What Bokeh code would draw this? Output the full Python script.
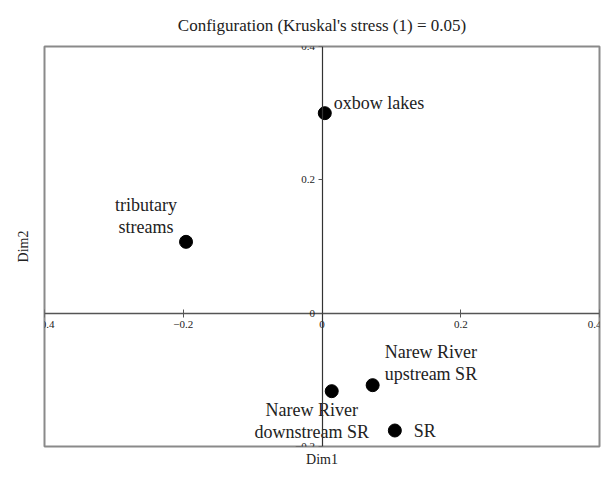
from bokeh.plotting import figure
from bokeh.models import ColumnDataSource, LinearAxis, FixedTicker, Title
from bokeh.core.properties import value
from bokeh.embed import file_html
from bokeh.resources import INLINE

names = ["oxbow lakes", "tributary\nstreams", "Narew River\nupstream SR", "Narew River\ndownstream SR", "SR"]
dim1 = [0.004, -0.196, 0.073, 0.014, 0.105]
dim2 = [0.300, 0.107, -0.108, -0.117, -0.176]
x_ticks = [-0.4, -0.2, 0, 0.2, 0.4]
y_ticks = [-0.2, 0, 0.2, 0.4]

FONT = "Liberation Serif"

src = ColumnDataSource(dict(
    x=dim1, y=dim2, name=names,
    xo=[9, -40, 12, -20, 19],
    yo=[-10, -26, -22, 30, 0],
    align=["left", "center", "left", "center", "left"],
))

p = figure(width=601, height=469, x_range=(-0.4, 0.4), y_range=(-0.2, 0.4),
           output_backend="svg", toolbar_location=None,
           x_axis_location=None, y_axis_location=None,
           min_border_left=44, min_border_right=2, min_border_top=46, min_border_bottom=10)
p.grid.visible = False
p.background_fill_color = "white"
p.border_fill_color = "white"
p.outline_line_color = "#8a8a8a"
p.outline_line_width = 2

p.title.text = "Configuration (Kruskal's stress (1) = 0.05)"
p.title.align = "center"
p.title.text_font = FONT
p.title.text_font_style = "normal"
p.title.text_font_size = "17px"
p.title.text_color = "#222222"
p.title.standoff = 24

xa = LinearAxis(fixed_location=0, ticker=FixedTicker(ticks=x_ticks))
xa.axis_line_color = "#555555"
xa.axis_line_width = 1.5
xa.major_tick_in = 4
xa.major_tick_out = 4
xa.major_tick_line_color = "#555555"
xa.minor_tick_line_color = None
xa.major_label_text_font = FONT
xa.major_label_text_font_size = "11px"
xa.major_label_text_color = "#222222"
xa.major_label_standoff = 4
p.add_layout(xa, "below")

ya = LinearAxis(fixed_location=0, ticker=FixedTicker(ticks=y_ticks))
ya.axis_line_color = "#333333"
ya.axis_line_width = 1.2
ya.major_tick_in = 0
ya.major_tick_out = 4
ya.major_tick_line_color = "#555555"
ya.minor_tick_line_color = None
ya.major_label_text_font = FONT
ya.major_label_text_font_size = "11px"
ya.major_label_text_color = "#222222"
ya.major_label_orientation = "horizontal"
ya.major_label_standoff = 3
p.add_layout(ya, "left")

p.add_layout(Title(text="Dim1", align="center", text_font=FONT, text_font_size="14px",
                   text_font_style="normal", text_color="#222222", standoff=6), "below")
p.add_layout(Title(text="Dim2", align="center", text_font=FONT, text_font_size="14px",
                   text_font_style="normal", text_color="#222222", standoff=27), "left")

p.scatter("x", "y", source=src, size=13, color="black")
p.text("x", "y", text="name", source=src, x_offset="xo", y_offset="yo",
       text_align="align", text_baseline="middle", text_font=value(FONT),
       text_font_size="18px", text_color="#222222", text_line_height=1.1)

open("out.html", "w").write(file_html(p, INLINE))
